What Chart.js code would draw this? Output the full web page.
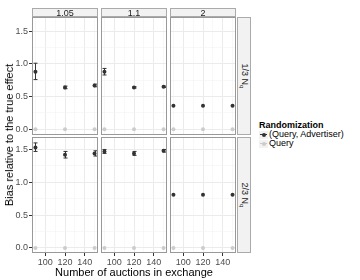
<!DOCTYPE html>
<html><head><meta charset="utf-8">
<script src="https://cdn.jsdelivr.net/npm/chart.js@4"></script>
<style>
html,body{margin:0;padding:0;background:#fff;}
#wrap{position:relative;width:360px;height:280px;overflow:hidden;font-family:"Liberation Sans",Arial,sans-serif;}
canvas{position:absolute;}
.strip{position:absolute;background:#f2f2f2;border:1px solid #aaaaaa;box-sizing:border-box;color:#1a1a1a;font-size:9px;display:flex;align-items:center;justify-content:center;}
.rstrip span{display:inline-block;transform:rotate(90deg);white-space:nowrap;}
.txt{position:absolute;white-space:nowrap;}
</style></head><body><div id="wrap"></div>
<script>
// ---- data ----
const xValues = [90, 120, 150];
const columnLabels = ['1.05', '1.1', '2'];
const rowLabels = ['1/3 N', '2/3 N'];
const seriesNames = ['(Query, Advertiser)', 'Query'];
const xTickLabels = [100, 120, 140];
const yTickLabels = ['0.0', '0.5', '1.0', '1.5'];

const queryValues = [0, 0, 0];

// row 1/3 Nq
const qaMean_r1_105 = [0.88, 0.64, 0.67];
const qaLow_r1_105  = [0.76, 0.62, 0.65];
const qaHigh_r1_105 = [1.01, 0.66, 0.69];
const qaMean_r1_11  = [0.88, 0.64, 0.65];
const qaLow_r1_11   = [0.83, 0.63, 0.64];
const qaHigh_r1_11  = [0.93, 0.65, 0.66];
const qaMean_r1_2   = [0.36, 0.36, 0.36];
const qaLow_r1_2    = [0.36, 0.36, 0.36];
const qaHigh_r1_2   = [0.36, 0.36, 0.36];
// row 2/3 Nq
const qaMean_r2_105 = [1.53, 1.42, 1.44];
const qaLow_r2_105  = [1.47, 1.37, 1.40];
const qaHigh_r2_105 = [1.60, 1.47, 1.48];
const qaMean_r2_11  = [1.47, 1.44, 1.48];
const qaLow_r2_11   = [1.44, 1.41, 1.46];
const qaHigh_r2_11  = [1.50, 1.47, 1.50];
const qaMean_r2_2   = [0.81, 0.81, 0.81];
const qaLow_r2_2    = [0.81, 0.81, 0.81];
const qaHigh_r2_2   = [0.81, 0.81, 0.81];

const panelData = [
  [[qaMean_r1_105, qaLow_r1_105, qaHigh_r1_105], [qaMean_r1_11, qaLow_r1_11, qaHigh_r1_11], [qaMean_r1_2, qaLow_r1_2, qaHigh_r1_2]],
  [[qaMean_r2_105, qaLow_r2_105, qaHigh_r2_105], [qaMean_r2_11, qaLow_r2_11, qaHigh_r2_11], [qaMean_r2_2, qaLow_r2_2, qaHigh_r2_2]]
];

// ---- layout ----
const colX = [32, 101, 170];
const panelW = 66;
const rowY = [17, 137];
const rowH = [118, 116];
const yRanges = [[-0.088, 1.717], [-0.077, 1.69]];
const DARK = '#333333', LIGHT = '#cccccc';
const FONT = '"Liberation Sans", Arial, sans-serif';

const wrap = document.getElementById('wrap');

const errorBarPlugin = {
  id: 'errbars',
  afterDatasetsDraw(chart) {
    const ds = chart.data.datasets[1];
    if (!ds.lows) return;
    const xs = chart.scales.x, ys = chart.scales.y, ctx = chart.ctx;
    ctx.save();
    ctx.strokeStyle = DARK; ctx.lineWidth = 1;
    ds.data.forEach((p, i) => {
      const lo = ds.lows[i], hi = ds.highs[i];
      if (hi - lo < 0.001) return;
      const px = Math.round(xs.getPixelForValue(p.x)) + 0.5;
      const y1 = ys.getPixelForValue(lo), y2 = ys.getPixelForValue(hi);
      ctx.beginPath();
      ctx.moveTo(px, y1); ctx.lineTo(px, y2);
      ctx.moveTo(px - 2, y1); ctx.lineTo(px + 2, y1);
      ctx.moveTo(px - 2, y2); ctx.lineTo(px + 2, y2);
      ctx.stroke();
    });
    ctx.restore();
  }
};
const borderPlugin = {
  id: 'pborder',
  afterDraw(chart) {
    const a = chart.chartArea, ctx = chart.ctx;
    ctx.save(); ctx.strokeStyle = '#999999'; ctx.lineWidth = 1;
    ctx.strokeRect(Math.round(a.left) + 0.5, Math.round(a.top) + 0.5, Math.round(a.right - a.left) - 1, Math.round(a.bottom - a.top) - 1);
    ctx.restore();
  }
};
function zeroPad(s) { s.paddingTop = 0; s.paddingBottom = 0; s.paddingLeft = 0; s.paddingRight = 0; }

for (let r = 0; r < 2; r++) {
  for (let c = 0; c < 3; c++) {
    const left = c === 0 ? 0 : colX[c];
    const top = rowY[r];
    const w = colX[c] + panelW - left;
    const h = r === 1 ? 280 - top : rowH[r];
    const cv = document.createElement('canvas');
    cv.width = w; cv.height = h;
    cv.style.left = left + 'px'; cv.style.top = top + 'px';
    cv.style.width = w + 'px'; cv.style.height = h + 'px';
    wrap.appendChild(cv);
    const [mean, low, high] = panelData[r][c];
    const showY = c === 0, showX = r === 1;
    new Chart(cv, {
      type: 'scatter',
      data: {
        datasets: [
          { label: seriesNames[1], data: xValues.map((x, i) => ({ x, y: queryValues[i] })),
            pointRadius: 2, pointBackgroundColor: LIGHT, pointBorderWidth: 0, showLine: false },
          { label: seriesNames[0], data: xValues.map((x, i) => ({ x, y: mean[i] })),
            lows: low, highs: high,
            pointRadius: 2, pointBackgroundColor: DARK, pointBorderWidth: 0, showLine: false }
        ]
      },
      options: {
        responsive: false, animation: false, devicePixelRatio: 1,
        layout: { padding: 0, autoPadding: false },
        plugins: { legend: { display: false }, tooltip: { enabled: false } },
        events: [],
        scales: {
          x: {
            type: 'linear', min: 86.5, max: 153.5,
            border: { display: false },
            grid: {
              color: ctx => (xTickLabels.includes(ctx.tick.value) ? '#ebebeb' : '#f3f3f3'),
              lineWidth: ctx => (xTickLabels.includes(ctx.tick.value) ? 1 : 0.6),
              drawTicks: showX, tickLength: 3,
              tickColor: ctx => (xTickLabels.includes(ctx.tick.value) ? DARK : 'rgba(0,0,0,0)')
            },
            ticks: {
              display: showX, stepSize: 10, includeBounds: false, autoSkip: false, maxRotation: 0,
              padding: 1, color: '#4d4d4d', font: { size: 9, family: FONT },
              callback: v => (xTickLabels.includes(v) ? String(v) : '')
            },
            afterFit: s => { s.height = showX ? 280 - top - rowH[r] : 0; zeroPad(s); }
          },
          y: {
            type: 'linear', min: yRanges[r][0], max: yRanges[r][1],
            border: { display: false },
            grid: {
              color: ctx => (Math.abs(ctx.tick.value * 2 - Math.round(ctx.tick.value * 2)) < 1e-6 ? '#ebebeb' : '#f3f3f3'),
              lineWidth: ctx => (Math.abs(ctx.tick.value * 2 - Math.round(ctx.tick.value * 2)) < 1e-6 ? 1 : 0.6),
              drawTicks: showY, tickLength: 3,
              tickColor: ctx => (Math.abs(ctx.tick.value * 2 - Math.round(ctx.tick.value * 2)) < 1e-6 ? DARK : 'rgba(0,0,0,0)')
            },
            ticks: {
              display: showY, stepSize: 0.25, includeBounds: false, autoSkip: false,
              padding: 1, color: '#4d4d4d', font: { size: 9, family: FONT },
              callback: v => { const k = Math.round(v * 2); return Math.abs(v * 2 - k) < 1e-6 && yTickLabels[k] !== undefined ? yTickLabels[k] : ''; }
            },
            afterFit: s => { s.width = showY ? colX[0] : 0; zeroPad(s); }
          }
        }
      },
      plugins: [errorBarPlugin, borderPlugin]
    });
  }
}

// strips
columnLabels.forEach((lab, c) => {
  const d = document.createElement('div');
  d.className = 'strip';
  d.style.left = colX[c] + 'px'; d.style.top = '8px';
  d.style.width = panelW + 'px'; d.style.height = '9px';
  d.textContent = lab;
  wrap.appendChild(d);
});
rowLabels.forEach((lab, r) => {
  const d = document.createElement('div');
  d.className = 'strip rstrip';
  d.style.left = (colX[2] + panelW + 1) + 'px'; d.style.top = rowY[r] + 'px';
  d.style.width = '14px'; d.style.height = rowH[r] + 'px';
  d.innerHTML = '<span>' + lab + '<sub style="font-size:6px">q</sub></span>';
  wrap.appendChild(d);
});

// axis titles
const yt = document.createElement('div');
yt.className = 'txt';
yt.style.cssText += 'left:9px;top:135px;font-size:11px;color:#000;transform:translate(-50%,-50%) rotate(-90deg);';
yt.textContent = 'Bias relative to the true effect';
wrap.appendChild(yt);
const xt = document.createElement('div');
xt.className = 'txt';
xt.style.cssText += 'left:134px;top:272px;font-size:11px;color:#000;transform:translate(-50%,-50%);';
xt.textContent = 'Number of auctions in exchange';
wrap.appendChild(xt);

// legend
const lg = document.createElement('div');
lg.className = 'txt';
lg.style.cssText += 'left:259px;top:120px;font-size:9px;color:#000;';
let html = '<div style="font-weight:bold;line-height:10px;">Randomization</div>';
[DARK, LIGHT].forEach((col, i) => {
  html += '<div style="display:flex;align-items:center;height:9px;">' +
    '<span style="position:relative;display:inline-block;width:9px;height:8px;background:#f2f2f2;margin-right:1px;">' +
    '<span style="position:absolute;left:1px;top:3.5px;width:7px;height:1px;background:' + col + ';"></span>' +
    '<span style="position:absolute;left:2.5px;top:2px;width:4px;height:4px;border-radius:2px;background:' + col + ';"></span>' +
    '</span><span style="line-height:9px;">' + seriesNames[i] + '</span></div>';
});
lg.innerHTML = html;
wrap.appendChild(lg);
</script></body></html>
